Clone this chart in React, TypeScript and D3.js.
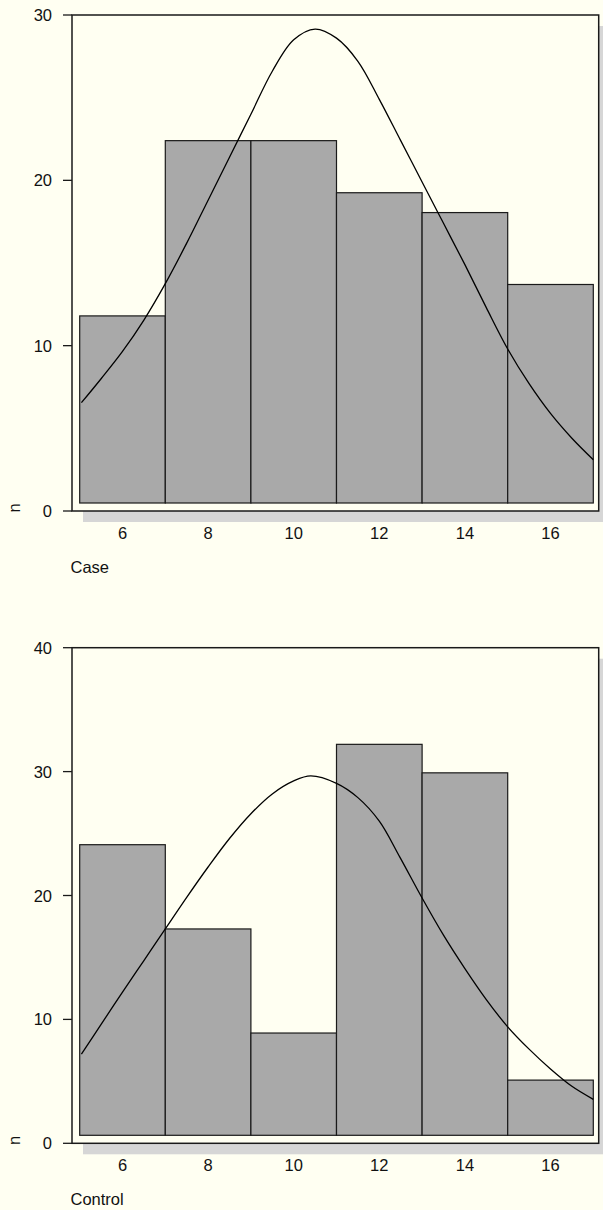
import React from "react";
import * as d3 from "d3";

const binEdges = [5, 7, 9, 11, 13, 15, 17];
const xTicks = [6, 8, 10, 12, 14, 16];

const caseCounts = [11.8, 22.4, 22.4, 19.25, 18.05, 13.7];
const caseCurveX = [5.04, 5.5, 6.0, 6.5, 7.0, 7.5, 8.0, 8.5, 9.0, 9.5, 10.0, 10.5, 11.0, 11.5, 12.0, 12.5, 13.0, 13.5, 14.0, 14.5, 15.0, 15.5, 16.0, 16.5, 17.0];
const caseCurveY = [6.55, 8.0, 9.65, 11.55, 13.75, 16.2, 18.8, 21.4, 24.0, 26.6, 28.5, 29.15, 28.6, 27.2, 24.9, 22.4, 19.9, 17.4, 14.9, 12.3, 9.8, 7.7, 5.9, 4.4, 3.1];
const caseYTicks = [0, 10, 20, 30];

const controlCounts = [24.1, 17.3, 8.9, 32.2, 29.9, 5.1];
const controlCurveX = [5.04, 5.5, 6.0, 6.5, 7.0, 7.5, 8.0, 8.5, 9.0, 9.5, 10.0, 10.4, 11.0, 11.5, 12.0, 12.48, 13.0, 13.5, 14.0, 14.5, 15.0, 15.5, 16.0, 16.5, 17.0];
const controlCurveY = [7.2, 9.6, 12.2, 14.75, 17.3, 19.85, 22.3, 24.6, 26.6, 28.2, 29.25, 29.65, 29.05, 27.9, 26.0, 23.1, 19.8, 16.8, 14.1, 11.6, 9.4, 7.6, 6.0, 4.6, 3.55];
const controlYTicks = [0, 10, 20, 30, 40];

const BG = "#fffff2";
const FONT = "'Liberation Sans', Arial, Helvetica, sans-serif";
const FS = 16.5;

type PanelProps = {
  top: number;
  bottom: number;
  yMax: number;
  counts: number[];
  curveX: number[];
  curveY: number[];
  yTicks: number[];
  title: string;
};

function Panel({ top, bottom, yMax, counts, curveX, curveY, yTicks, title }: PanelProps) {
  const frameL = 72;
  const frameR = 598.7;
  const x = d3.scaleLinear().domain([5, 17]).range([79.7, 593.3]);
  const y = d3.scaleLinear().domain([0, yMax]).range([bottom, top]);
  const base = bottom - 8;
  const pts: [number, number][] = curveX.map((cx, i) => [cx, curveY[i]]);
  const line = d3
    .line<[number, number]>()
    .x((d) => x(d[0]))
    .y((d) => y(d[1]))
    .curve(d3.curveCatmullRom.alpha(0.5));
  const sh = 11;
  return (
    <g>
      <rect x={frameL + sh} y={top + sh} width={frameR - frameL} height={bottom - top} fill="#d6d6d6" />
      <rect x={frameL} y={top} width={frameR - frameL} height={bottom - top} fill={BG} />
      {counts.map((c, i) => (
        <rect
          key={i}
          x={x(binEdges[i])}
          y={y(c)}
          width={x(binEdges[i + 1]) - x(binEdges[i])}
          height={base - y(c)}
          fill="#a9a9a9"
          stroke="#1a1a1a"
          strokeWidth={1.2}
        />
      ))}
      <path d={line(pts) || ""} fill="none" stroke="#000" strokeWidth={1.3} />
      <rect
        x={frameL}
        y={top}
        width={frameR - frameL}
        height={bottom - top}
        fill="none"
        stroke="#1a1a1a"
        strokeWidth={1.5}
      />
      {yTicks.map((t) => (
        <g key={t}>
          <line x1={63} x2={frameL} y1={y(t)} y2={y(t)} stroke="#1a1a1a" strokeWidth={1.3} />
          <text
            x={52}
            y={y(t)}
            textAnchor="end"
            dominantBaseline="central"
            fontSize={FS}
            fontFamily={FONT}
            fill="#111"
          >
            {t}
          </text>
        </g>
      ))}
      {xTicks.map((t) => (
        <text
          key={t}
          x={x(t)}
          y={bottom + 27.5}
          textAnchor="middle"
          fontSize={FS}
          fontFamily={FONT}
          fill="#111"
        >
          {t}
        </text>
      ))}
      <text
        transform={`translate(19.8, ${bottom - 3}) rotate(-90)`}
        textAnchor="middle"
        fontSize={FS}
        fontFamily={FONT}
        fill="#111"
      >
        n
      </text>
      <text x={70.5} y={bottom + 61.5} fontSize={FS} fontFamily={FONT} fill="#111">
        {title}
      </text>
    </g>
  );
}

export default function App() {
  return (
    <svg
      width={603}
      height={1210}
      style={{ position: "absolute", left: 0, top: 0, display: "block", background: BG }}
    >
      <rect x={0} y={0} width={603} height={1210} fill={BG} />
      <Panel
        top={15}
        bottom={511}
        yMax={30}
        counts={caseCounts}
        curveX={caseCurveX}
        curveY={caseCurveY}
        yTicks={caseYTicks}
        title="Case"
      />
      <Panel
        top={647.7}
        bottom={1143.3}
        yMax={40}
        counts={controlCounts}
        curveX={controlCurveX}
        curveY={controlCurveY}
        yTicks={controlYTicks}
        title="Control"
      />
    </svg>
  );
}
